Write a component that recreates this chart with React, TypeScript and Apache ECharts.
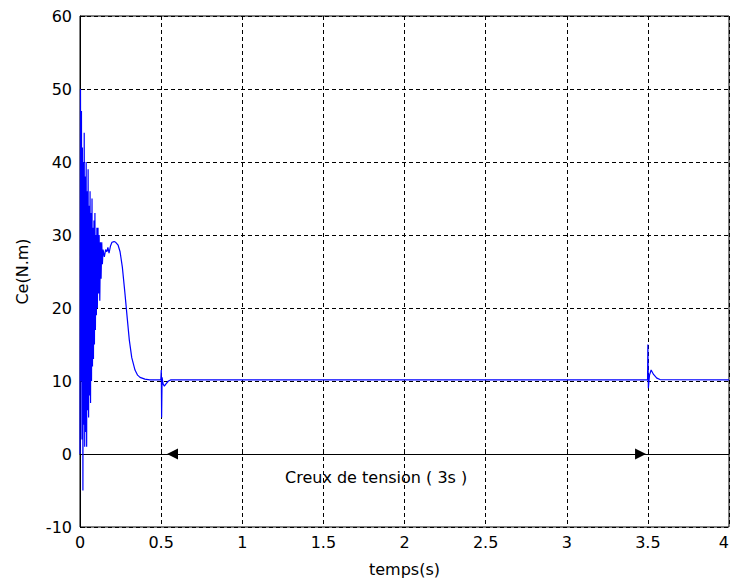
import React, { useEffect, useRef } from "react";
import * as echarts from "echarts";

const timeValues: number[] = [
  0, 0.003, 0.006, 0.009, 0.012, 0.015, 0.018, 0.021, 0.024, 0.026, 0.029, 0.032, 0.035, 0.038, 0.041,
  0.044, 0.047, 0.05, 0.053, 0.056, 0.059, 0.062, 0.065, 0.068, 0.071, 0.074, 0.077, 0.08, 0.083,
  0.086, 0.089, 0.092, 0.095, 0.098, 0.101, 0.104, 0.107, 0.111, 0.114, 0.118, 0.122, 0.126, 0.13,
  0.134, 0.138, 0.142, 0.15, 0.158, 0.165, 0.172, 0.179, 0.188, 0.197, 0.21, 0.22, 0.235, 0.247,
  0.261, 0.277, 0.292, 0.304, 0.319, 0.339, 0.355, 0.37, 0.4, 0.43, 0.498, 0.501, 0.503, 0.506,
  0.512, 0.52, 0.53, 0.545, 0.56, 3.498, 3.5, 3.503, 3.51, 3.52, 3.535, 3.555, 3.575, 4,
];
const torqueValues: number[] = [
  0, 50, 10, 47, 2, 42, -5, 40, 4, 44, 1, 38, 3, 40, 1,
  36, 6, 39, 5, 34, 8, 36, 7, 33, 10, 35, 12, 31, 13,
  32, 15, 33, 17, 30, 19, 31, 20, 31, 22, 30, 21, 29, 24,
  29, 26, 28, 27, 28, 27.7, 28.3, 27.5, 28.5, 29, 29.1, 29, 28.6, 27.7,
  25.6, 22, 18.4, 15.6, 13.2, 11.5, 10.8, 10.5, 10.25, 10.15, 10.15, 11.5, 5, 10.5,
  9.6, 9.3, 9.6, 10, 10.15, 10.15, 15, 9, 10.8, 11.5, 10.9, 10.4, 10.2, 10.15,
];

const xTicks = { min: 0, max: 4, interval: 0.5 };
const yTicks = { min: -10, max: 60, interval: 10 };
const arrowStart: [number, number] = [0.57, 0];
const arrowEnd: [number, number] = [3.455, 0];
const annotation = "Creux de tension ( 3s )";
const xName = "temps(s)";
const yName = "Ce(N.m)";

const FONT = "'DejaVu Sans', Arial, sans-serif";

export default function App() {
  const ref = useRef<HTMLDivElement>(null);
  useEffect(() => {
    if (!ref.current) return;
    const chart = echarts.init(ref.current, null, { renderer: "svg" });
    const data = timeValues.map((t, i) => [t, torqueValues[i]]);
    chart.setOption({
      animation: false,
      backgroundColor: "#ffffff",
      grid: {
        left: 80,
        right: 1,
        top: 16,
        bottom: 57,
        containLabel: false,
        outerBoundsMode: "none",
        show: true,
        borderColor: "#000",
        borderWidth: 1,
        backgroundColor: "transparent",
      },
      xAxis: {
        type: "value",
        min: xTicks.min,
        max: xTicks.max,
        interval: xTicks.interval,
        name: xName,
        nameLocation: "middle",
        nameGap: 34,
        nameTextStyle: { fontFamily: FONT, fontSize: 16, color: "#000" },
        axisLine: { show: true, lineStyle: { color: "#000", width: 1 } },
        axisTick: { show: true, inside: true, length: 5, lineStyle: { color: "#000" } },
        axisLabel: {
          fontFamily: FONT,
          fontSize: 16,
          color: "#000",
          margin: 7,
          alignMaxLabel: "right",
        },
        splitLine: { show: true, lineStyle: { color: "#000", type: [4, 3], width: 1 } },
      },
      yAxis: {
        type: "value",
        min: yTicks.min,
        max: yTicks.max,
        interval: yTicks.interval,
        name: yName,
        nameLocation: "middle",
        nameGap: 50,
        nameTextStyle: { fontFamily: FONT, fontSize: 16, color: "#000" },
        axisLine: { show: true, lineStyle: { color: "#000", width: 1 } },
        axisTick: { show: true, inside: true, length: 5, lineStyle: { color: "#000" } },
        axisLabel: { fontFamily: FONT, fontSize: 16, color: "#000", margin: 8 },
        splitLine: { show: true, lineStyle: { color: "#000", type: [4, 3], width: 1 } },
      },
      series: [
        {
          type: "line",
          data,
          showSymbol: false,
          symbol: "none",
          lineStyle: { color: "#0000ff", width: 1.2 },
          markLine: {
            silent: true,
            symbol: ["triangle", "triangle"],
            symbolSize: 11,
            label: { show: false },
            lineStyle: { color: "#000", type: "solid", width: 1 },
            itemStyle: { color: "#000" },
            data: [[{ coord: arrowStart }, { coord: arrowEnd }]],
          },
        },
      ],
      graphic: [
        {
          type: "text",
          left: 285,
          top: 469,
          style: { text: annotation, fontFamily: FONT, fontSize: 16, fill: "#000" },
        },
      ],
    });
    return () => chart.dispose();
  }, []);
  return (
    <div
      ref={ref}
      style={{ position: "fixed", left: 0, top: 0, width: 730, height: 584, background: "#fff" }}
    />
  );
}
